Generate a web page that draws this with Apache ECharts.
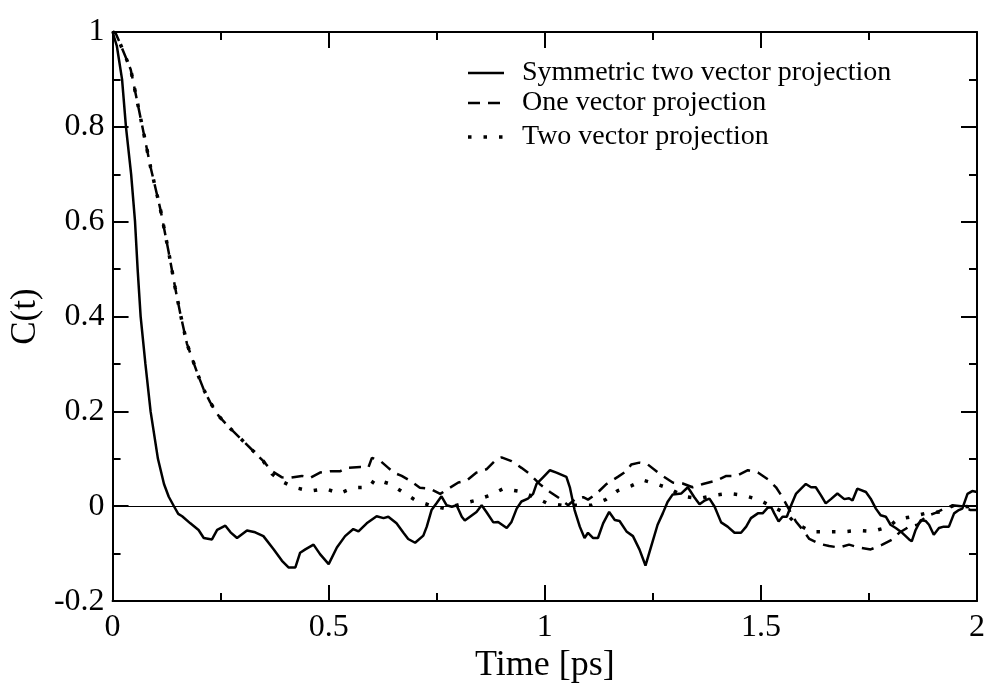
<!DOCTYPE html>
<html>
<head>
<meta charset="utf-8">
<script src="https://cdn.jsdelivr.net/npm/echarts@6/dist/echarts.min.js"></script>
<style>html,body{margin:0;padding:0;background:#fff}#c{width:988px;height:689px}</style>
</head>
<body>
<div id="c"></div>
<script>
// ---- data ----
const seriesNames = ["Symmetric two vector projection", "One vector projection", "Two vector projection"];
const xTicks = [0, 0.5, 1, 1.5, 2];
const yTicks = [-0.2, 0, 0.2, 0.4, 0.6, 0.8, 1];

const symT = [0,0.01,0.022,0.031,0.043,0.052,0.058,0.065,0.076,0.088,0.105,0.119,0.13,0.142,0.152,0.161,0.18,0.199,0.211,0.23,0.242,0.261,0.273,0.288,0.311,0.33,0.349,0.373,0.392,0.407,0.423,0.434,0.446,0.465,0.48,0.5,0.519,0.538,0.557,0.569,0.588,0.611,0.627,0.638,0.657,0.673,0.684,0.7,0.719,0.727,0.738,0.75,0.761,0.773,0.785,0.796,0.808,0.815,0.827,0.842,0.854,0.865,0.881,0.892,0.912,0.923,0.935,0.946,0.961,0.973,0.981,0.996,1.012,1.027,1.05,1.058,1.069,1.081,1.092,1.1,1.112,1.123,1.135,1.149,1.162,1.173,1.189,1.204,1.219,1.233,1.246,1.261,1.273,1.284,1.296,1.316,1.331,1.346,1.358,1.37,1.381,1.393,1.408,1.423,1.439,1.454,1.466,1.477,1.493,1.504,1.516,1.524,1.531,1.541,1.55,1.56,1.57,1.581,1.593,1.604,1.616,1.627,1.639,1.65,1.662,1.677,1.693,1.704,1.712,1.723,1.743,1.754,1.766,1.777,1.789,1.8,1.812,1.827,1.843,1.849,1.858,1.87,1.881,1.889,1.9,1.912,1.923,1.935,1.947,1.958,1.966,1.978,1.989,2.0];
const symV = [1.0,0.97,0.9,0.8,0.7,0.6,0.5,0.4,0.3,0.2,0.1,0.047,0.02,0.0,-0.016,-0.021,-0.036,-0.05,-0.067,-0.07,-0.05,-0.041,-0.055,-0.067,-0.051,-0.055,-0.063,-0.091,-0.115,-0.129,-0.129,-0.098,-0.091,-0.081,-0.101,-0.122,-0.087,-0.063,-0.048,-0.053,-0.036,-0.021,-0.025,-0.022,-0.036,-0.056,-0.069,-0.077,-0.062,-0.043,-0.008,0.007,0.021,0.002,-0.001,0.002,-0.022,-0.03,-0.022,-0.012,0.002,-0.012,-0.034,-0.033,-0.046,-0.033,-0.005,0.01,0.016,0.026,0.047,0.061,0.076,0.071,0.062,0.04,-0.008,-0.043,-0.067,-0.056,-0.067,-0.067,-0.036,-0.012,-0.029,-0.031,-0.053,-0.063,-0.091,-0.125,-0.085,-0.039,-0.015,0.009,0.025,0.027,0.04,0.019,0.004,0.012,0.016,-0.001,-0.034,-0.043,-0.056,-0.056,-0.043,-0.025,-0.015,-0.015,-0.003,-0.002,-0.015,-0.032,-0.022,-0.022,0.002,0.026,0.037,0.047,0.04,0.04,0.023,0.006,0.015,0.027,0.015,0.017,0.012,0.037,0.03,0.016,-0.005,-0.019,-0.022,-0.039,-0.046,-0.056,-0.07,-0.074,-0.05,-0.029,-0.031,-0.039,-0.06,-0.046,-0.043,-0.043,-0.015,-0.008,-0.005,0.026,0.032,0.03];

const oneT = [0,0.007,0.02,0.042,0.065,0.088,0.111,0.13,0.145,0.157,0.172,0.196,0.211,0.226,0.245,0.269,0.296,0.326,0.349,0.369,0.392,0.411,0.438,0.457,0.48,0.503,0.527,0.542,0.573,0.592,0.6,0.619,0.638,0.65,0.669,0.688,0.711,0.734,0.758,0.777,0.8,0.819,0.842,0.865,0.888,0.9,0.923,0.946,0.965,0.988,1.012,1.035,1.054,1.069,1.089,1.1,1.119,1.143,1.169,1.189,1.2,1.219,1.237,1.266,1.296,1.319,1.342,1.366,1.397,1.42,1.443,1.47,1.493,1.516,1.535,1.55,1.566,1.581,1.597,1.612,1.635,1.658,1.681,1.704,1.727,1.754,1.781,1.804,1.82,1.843,1.862,1.881,1.904,1.92,1.943,1.966,1.985,2.0];
const oneV = [1.0,0.998,0.97,0.921,0.818,0.715,0.625,0.535,0.46,0.405,0.343,0.281,0.246,0.219,0.191,0.167,0.143,0.116,0.095,0.074,0.061,0.06,0.064,0.06,0.071,0.074,0.074,0.081,0.083,0.082,0.102,0.096,0.081,0.071,0.064,0.054,0.039,0.037,0.026,0.037,0.05,0.054,0.071,0.078,0.099,0.103,0.095,0.081,0.068,0.047,0.03,0.016,0.002,0.014,0.019,0.014,0.026,0.047,0.062,0.074,0.088,0.092,0.089,0.068,0.05,0.048,0.04,0.047,0.054,0.064,0.064,0.076,0.071,0.057,0.04,0.019,-0.008,-0.032,-0.05,-0.069,-0.079,-0.084,-0.087,-0.081,-0.087,-0.091,-0.081,-0.07,-0.056,-0.043,-0.039,-0.022,-0.014,-0.007,0.002,0.0,-0.008,-0.008];

const twoT = [0,0.007,0.02,0.042,0.065,0.088,0.111,0.13,0.145,0.157,0.172,0.196,0.211,0.226,0.245,0.269,0.296,0.326,0.349,0.369,0.388,0.419,0.457,0.492,0.525,0.557,0.594,0.607,0.642,0.671,0.702,0.734,0.769,0.804,0.838,0.873,0.904,0.938,0.972,1.004,1.039,1.073,1.108,1.141,1.169,1.2,1.227,1.258,1.289,1.321,1.358,1.391,1.425,1.46,1.494,1.527,1.558,1.58,1.618,1.654,1.689,1.723,1.758,1.797,1.815,1.849,1.881,1.916,1.947,1.981,2.0];
const twoV = [1.0,0.998,0.97,0.921,0.818,0.715,0.625,0.535,0.46,0.405,0.343,0.281,0.246,0.219,0.191,0.167,0.143,0.116,0.095,0.068,0.054,0.04,0.032,0.037,0.027,0.039,0.04,0.057,0.047,0.03,0.012,0.002,-0.005,0.004,0.012,0.023,0.037,0.032,0.021,0.007,0.002,0.002,0.002,0.014,0.033,0.043,0.055,0.047,0.037,0.021,0.016,0.023,0.027,0.023,0.014,-0.001,-0.015,-0.036,-0.054,-0.054,-0.054,-0.051,-0.053,-0.043,-0.028,-0.022,-0.015,-0.012,0.002,-0.001,0.0];

// ---- styles ----
const FONT = "'Liberation Serif','Times New Roman',serif";
const lineStyles = [
  { width: 2.5, dash: null },
  { width: 2.5, dash: [12, 8] },
  { width: 3.5, dash: [3.5, 12] }
];

// ---- chart ----
const pair = (t, v) => t.map((x, i) => [x, v[i]]);
const fmt = v => String(parseFloat(Number(v).toFixed(2)));

function xAx(pos, show) {
  return {
    type: 'value', position: pos, min: xTicks[0], max: xTicks[xTicks.length - 1], interval: 0.5,
    name: show ? 'Time [ps]' : '', nameLocation: 'middle', nameGap: 34,
    nameTextStyle: { fontFamily: FONT, fontSize: 36, color: '#000' },
    axisLine: { show: true, onZero: false, lineStyle: { color: '#000', width: 2 } },
    axisTick: { show: true, inside: true, length: 16, lineStyle: { width: 2, color: '#000' } },
    minorTick: { show: true, splitNumber: 2, length: 8, lineStyle: { width: 2, color: '#000' } },
    axisLabel: { show: show, margin: 10, fontFamily: FONT, fontSize: 32, color: '#000', formatter: fmt },
    splitLine: { show: false }
  };
}
function yAx(pos, show) {
  return {
    type: 'value', position: pos, min: yTicks[0], max: yTicks[yTicks.length - 1], interval: 0.2,
    name: show ? 'C(t)' : '', nameLocation: 'middle', nameGap: 66,
    nameTextStyle: { fontFamily: FONT, fontSize: 35, color: '#000' },
    axisLine: { show: true, onZero: false, lineStyle: { color: '#000', width: 2 } },
    axisTick: { show: true, inside: true, length: 16, lineStyle: { width: 2, color: '#000' } },
    minorTick: { show: true, splitNumber: 2, length: 8, lineStyle: { width: 2, color: '#000' } },
    axisLabel: { show: show, margin: 8, fontFamily: FONT, fontSize: 32, color: '#000', formatter: fmt },
    splitLine: { show: false }
  };
}

// legend drawn as graphic (line sample + real text)
const legendX = 468, legendTextX = 522, legendRowY = [73, 103, 137];
const legendGraphic = [];
seriesNames.forEach((n, i) => {
  legendGraphic.push({
    type: 'line', silent: true,
    shape: { x1: legendX, y1: legendRowY[i], x2: legendX + 36, y2: legendRowY[i] },
    style: { stroke: '#000', lineWidth: lineStyles[i].width, lineDash: lineStyles[i].dash, lineCap: 'butt' }
  });
  legendGraphic.push({
    type: 'text', silent: true, x: legendTextX, y: legendRowY[i],
    style: { text: n, fontFamily: FONT, fontSize: 28, fill: '#000', verticalAlign: 'middle', align: 'left' }
  });
});

const chart = echarts.init(document.getElementById('c'), null, { renderer: 'canvas' });
chart.setOption({
  animation: false,
  backgroundColor: '#fff',
  grid: { left: 112, right: 10, top: 32, bottom: 75, containLabel: false },
  xAxis: [xAx('bottom', true), xAx('top', false)],
  yAxis: [yAx('left', true), yAx('right', false)],
  graphic: legendGraphic,
  series: [
    {
      name: seriesNames[0], type: 'line', data: pair(symT, symV), symbol: 'none',
      lineStyle: { color: '#000', width: lineStyles[0].width, type: 'solid' },
      markLine: {
        silent: true, symbol: ['none', 'none'], label: { show: false },
        lineStyle: { color: '#000', width: 1, type: 'solid' },
        data: [{ yAxis: 0 }]
      }
    },
    {
      name: seriesNames[1], type: 'line', data: pair(oneT, oneV), symbol: 'none',
      lineStyle: { color: '#000', width: lineStyles[1].width, type: lineStyles[1].dash }
    },
    {
      name: seriesNames[2], type: 'line', data: pair(twoT, twoV), symbol: 'none',
      lineStyle: { color: '#000', width: lineStyles[2].width, type: lineStyles[2].dash, cap: 'butt' }
    }
  ]
});
</script>
</body>
</html>
